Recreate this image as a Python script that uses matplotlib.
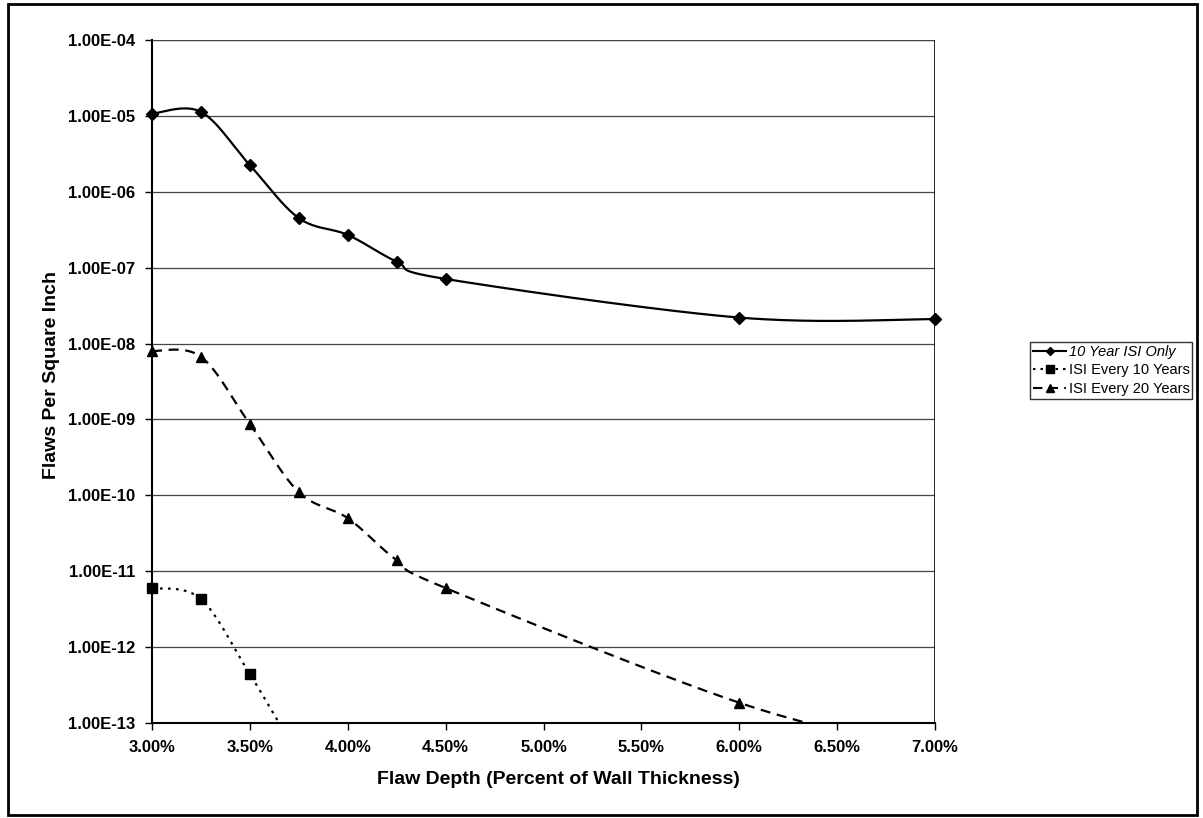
import numpy as np
import matplotlib
matplotlib.use("Agg")
import matplotlib.pyplot as plt
from matplotlib.patches import Rectangle
from matplotlib.ticker import FixedLocator, FuncFormatter, NullLocator

plt.rcParams["font.family"] = ["Liberation Sans", "DejaVu Sans"]

# flaw depth, percent of wall thickness
depth = [3.00, 3.25, 3.50, 3.75, 4.00, 4.25, 4.50, 6.00, 7.00]

isi_10yr_only = [1.07e-5, 1.13e-5, 2.24e-6, 4.5e-7, 2.7e-7, 1.2e-7, 7.1e-8, 2.2e-8, 2.1e-8]
isi_every_10 = [6.0e-12, 4.3e-12, 4.4e-13, 4.0e-14, 8.0e-15, 2.0e-15, 6.0e-16, 1.0e-17, 1.0e-18]
isi_every_20 = [8.0e-9, 6.7e-9, 8.7e-10, 1.1e-10, 5.0e-11, 1.4e-11, 6.0e-12, 1.85e-13, 4.0e-14]

labels = ["10 Year ISI Only", "ISI Every 10 Years", "ISI Every 20 Years"]
x_ticks = [3.0, 3.5, 4.0, 4.5, 5.0, 5.5, 6.0, 6.5, 7.0]
y_ticks = [10.0 ** e for e in range(-13, -3)]
Y_MIN, Y_MAX = 1e-13, 1e-4


def smooth(xs, ys, n=40):
    # Excel-like smoothed line: Catmull-Rom in screen-ish units
    u = (np.asarray(xs) - 3.0) / 4.0 * 783.0
    v = np.log10(ys) * 76.0
    p = np.column_stack([u, v])
    p = np.vstack([p[0], p, p[-1]])
    out = []
    for i in range(1, len(p) - 2):
        p0, p1, p2, p3 = p[i - 1], p[i], p[i + 1], p[i + 2]
        c1 = p1 + (p2 - p0) / 6.0
        c2 = p2 - (p3 - p1) / 6.0
        t = np.linspace(0, 1, n)[:, None]
        seg = ((1 - t) ** 3) * p1 + 3 * ((1 - t) ** 2) * t * c1 + 3 * (1 - t) * t ** 2 * c2 + t ** 3 * p2
        out.append(seg if i == 1 else seg[1:])
    out = np.vstack(out)
    return out[:, 0] / 783.0 * 4.0 + 3.0, 10.0 ** (out[:, 1] / 76.0)


fig = plt.figure(figsize=(12.03, 8.18), dpi=100)
ax = fig.add_axes([152 / 1203, 1 - 723 / 818, (935 - 152) / 1203, (723 - 40) / 818])

styles = [
    dict(ls="-", marker="D", ms=6, dashes=None),
    dict(ls=":", marker="s", ms=7.5, dashes=(1.2, 2.4)),
    dict(ls="--", marker="^", ms=7.5, dashes=(4.5, 3)),
]

handles = []
for ys, lab, st in zip([isi_10yr_only, isi_every_10, isi_every_20], labels, styles):
    sx, sy = smooth(depth, ys)
    line, = ax.plot(sx, sy, color="black", lw=1.6, ls=st["ls"], zorder=3)
    if st["dashes"] is not None:
        line.set_dashes(st["dashes"])
    keep = [(x, y) for x, y in zip(depth, ys) if Y_MIN <= y <= Y_MAX]
    ax.plot([k[0] for k in keep], [k[1] for k in keep], ls="none", marker=st["marker"],
            ms=st["ms"], color="black", clip_on=False, zorder=4)
    h, = ax.plot([], [], color="black", lw=1.5, ls=st["ls"], marker=st["marker"], ms=st["ms"] - 1.5)
    if st["dashes"] is not None:
        h.set_dashes(st["dashes"])
    handles.append(h)

ax.set_yscale("log")
ax.set_xlim(3.0, 7.0)
ax.set_ylim(Y_MIN, Y_MAX)
ax.yaxis.set_major_locator(FixedLocator(y_ticks))
ax.yaxis.set_minor_locator(NullLocator())
ax.yaxis.set_major_formatter(FuncFormatter(lambda v, _: "1.00E-%02d" % -int(np.round(np.log10(v)))))
ax.set_xticks(x_ticks)
ax.xaxis.set_major_formatter(FuncFormatter(lambda v, _: "%.2f%%" % v))
ax.grid(axis="y", color="#444444", lw=0.9)
ax.set_axisbelow(True)
for s in ["top", "right"]:
    ax.spines[s].set_visible(False)
ax.axhline(Y_MAX, color="#444444", lw=0.9, zorder=1)
ax.axvline(7.0, color="black", lw=1.2, zorder=1)
ax.spines["left"].set_linewidth(1.5)
ax.spines["bottom"].set_linewidth(1.5)
ax.tick_params(direction="out", length=5, width=1.0, pad=7)
for t in ax.get_xticklabels() + ax.get_yticklabels():
    t.set_fontsize(12)
    t.set_fontweight("bold")

ax.set_xlabel("Flaw Depth (Percent of Wall Thickness)", fontsize=14, fontweight="bold", labelpad=12)
ax.xaxis.label.set_x(0.519)
ax.set_ylabel("Flaws Per Square Inch", fontsize=14, fontweight="bold", labelpad=6)
ax.yaxis.label.set_y(0.51)

leg = fig.legend(handles, labels, loc="upper left", bbox_to_anchor=(1030 / 1203, 1 - 342 / 818),
                 frameon=True, fancybox=False, edgecolor="black", fontsize=10.5, numpoints=1,
                 handlelength=2.3, handletextpad=0.15, borderpad=0.2, labelspacing=0.3,
                 borderaxespad=0)
leg.get_frame().set_linewidth(1.0)
leg.get_texts()[0].set_fontstyle("italic")

fig.patches.append(Rectangle((8 / 1203, 1 - 815 / 818), (1197 - 8) / 1203, (815 - 4) / 818,
                             transform=fig.transFigure, fill=False, edgecolor="black", lw=2))

fig.savefig("out.png", dpi=100)
